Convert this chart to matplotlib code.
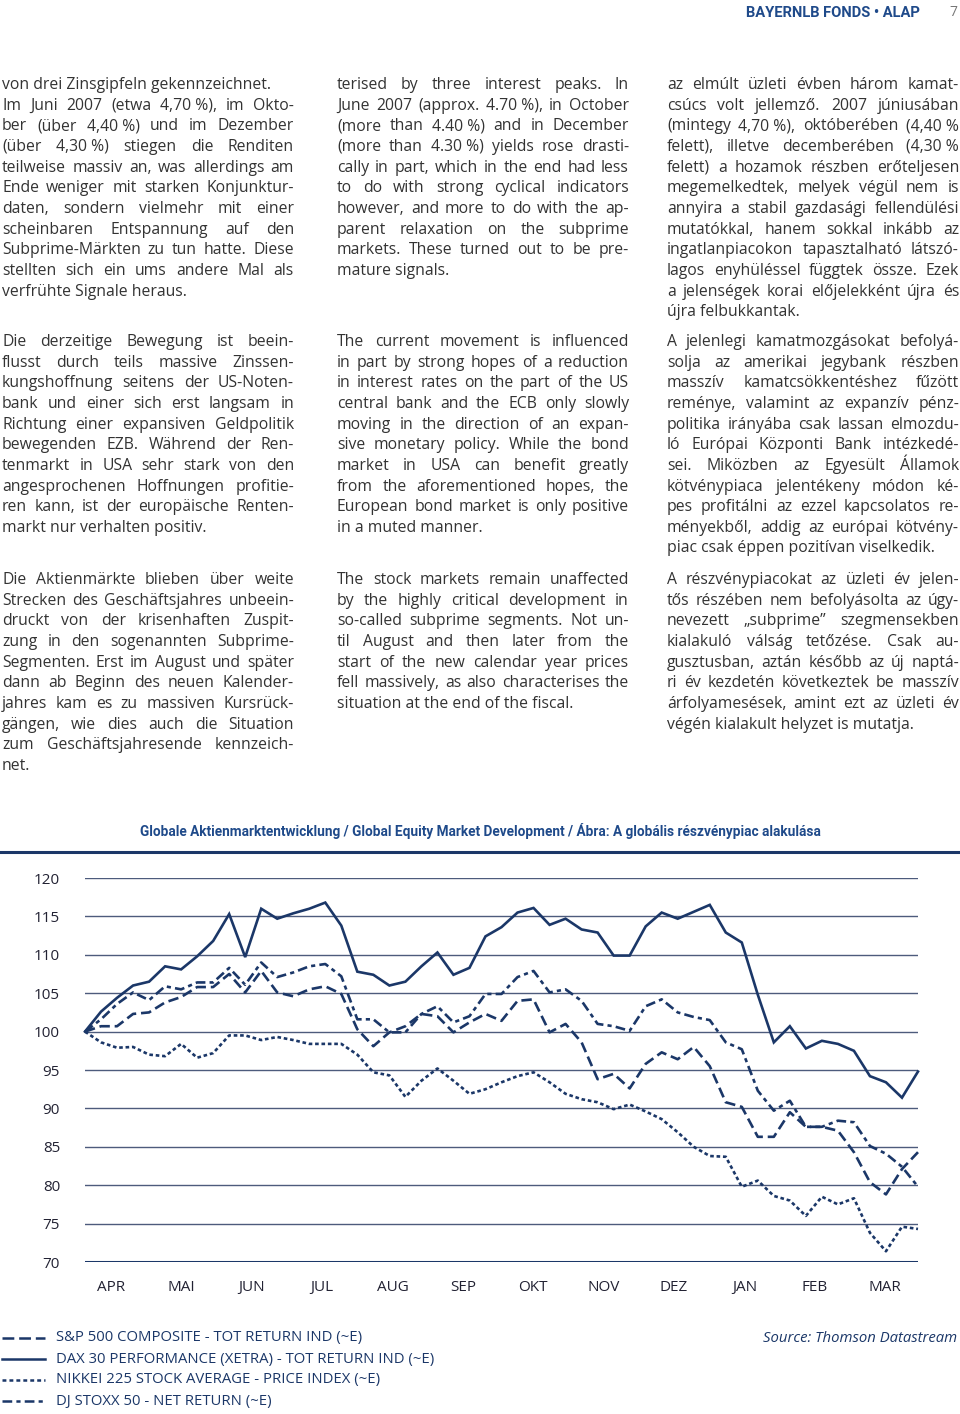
import matplotlib
matplotlib.use("Agg")
import matplotlib.pyplot as plt
from matplotlib.lines import Line2D

W, H = 960, 1414

# weekly index values, Apr 2007 - Mar 2008
dax = [100, 102.6, 104.4, 106.0, 106.5, 108.5, 108.1, 109.8, 111.8, 115.3,
       109.7, 116.0, 114.7, 115.4, 116.0, 116.8, 113.8, 107.8, 107.4, 106.0,
       106.5, 108.5, 110.3, 107.4, 108.3, 112.4, 113.6, 115.5, 116.1, 113.9,
       114.7, 113.3, 112.9, 109.9, 109.9, 113.7, 115.5, 114.7, 115.6, 116.5,
       112.9, 111.6, 104.8, 98.6, 100.7, 97.8, 98.8, 98.4, 97.5, 94.2,
       93.4, 91.4, 94.8]
stoxx = [100, 101.6, 103.6, 105.1, 104.1, 105.9, 105.5, 106.4, 106.4, 108.3,
         106.1, 109.0, 107.1, 107.7, 108.5, 108.8, 107.2, 101.6, 101.6, 99.9,
         99.9, 102.3, 103.3, 101.2, 102.0, 104.9, 104.9, 107.1, 107.9, 105.1,
         105.5, 104.0, 101.0, 100.7, 100.1, 103.3, 104.2, 102.5, 101.9, 101.5,
         98.6, 97.7, 92.3, 89.7, 91.0, 87.6, 87.6, 88.4, 88.2, 85.1,
         84.1, 82.4, 79.8]
sp500 = [100, 100.7, 100.7, 102.3, 102.5, 103.8, 104.5, 105.8, 105.8, 107.5,
         105.1, 107.9, 105.1, 104.6, 105.5, 105.9, 104.9, 100.3, 98.1, 99.9,
         100.7, 102.3, 102.0, 99.9, 101.2, 102.3, 101.4, 104.0, 104.2, 99.9,
         101.0, 98.6, 93.8, 94.5, 92.6, 95.8, 97.3, 96.4, 98.0, 95.5,
         90.8, 90.2, 86.3, 86.3, 89.5, 87.6, 87.6, 87.1, 84.3, 80.4,
         78.8, 82.1, 84.3]
nikkei = [100, 98.6, 97.9, 98.0, 97.0, 96.8, 98.4, 96.6, 97.2, 99.5,
          99.5, 98.9, 99.3, 98.9, 98.4, 98.4, 98.4, 97.0, 94.7, 94.3,
          91.5, 93.6, 95.2, 93.6, 91.9, 92.5, 93.4, 94.2, 94.7, 93.4,
          91.9, 91.2, 90.8, 89.9, 90.5, 89.6, 88.6, 86.9, 85.0, 83.8,
          83.7, 79.8, 80.6, 78.6, 78.0, 76.0, 78.5, 77.5, 78.3, 73.8,
          71.4, 74.6, 74.3]

months = ["APR", "MAI", "JUN", "JUL", "AUG", "SEP", "OKT", "NOV", "DEZ",
          "JAN", "FEB", "MAR"]
yticks = [70, 75, 80, 85, 90, 95, 100, 105, 110, 115, 120]

legend_labels = [
    "S&P 500 COMPOSITE - TOT RETURN IND (~E)",
    "DAX 30 PERFORMANCE (XETRA) - TOT RETURN IND (~E)",
    "NIKKEI 225 STOCK AVERAGE - PRICE INDEX (~E)",
    "DJ STOXX 50 - NET RETURN (~E)",
]

col_de = [
    ["von drei Zinsgipfeln gekennzeichnet.",
     "Im Juni 2007 (etwa 4,70\u00a0%), im Okto-",
     "ber (über 4,40\u00a0%) und im Dezember",
     "(über 4,30\u00a0%) stiegen die Renditen",
     "teilweise massiv an, was allerdings am",
     "Ende weniger mit starken Konjunktur-",
     "daten, sondern vielmehr mit einer",
     "scheinbaren Entspannung auf den",
     "Subprime-Märkten zu tun hatte. Diese",
     "stellten sich ein ums andere Mal als",
     "verfrühte Signale heraus."],
    ["Die derzeitige Bewegung ist beein-",
     "flusst durch teils massive Zinssen-",
     "kungshoffnung seitens der US-Noten-",
     "bank und einer sich erst langsam in",
     "Richtung einer expansiven Geldpolitik",
     "bewegenden EZB. Während der Ren-",
     "tenmarkt in USA sehr stark von den",
     "angesprochenen Hoffnungen profitie-",
     "ren kann, ist der europäische Renten-",
     "markt nur verhalten positiv."],
    ["Die Aktienmärkte blieben über weite",
     "Strecken des Geschäftsjahres unbeein-",
     "druckt von der krisenhaften Zuspit-",
     "zung in den sogenannten Subprime-",
     "Segmenten. Erst im August und später",
     "dann ab Beginn des neuen Kalender-",
     "jahres kam es zu massiven Kursrück-",
     "gängen, wie dies auch die Situation",
     "zum Geschäftsjahresende kennzeich-",
     "net."],
]
col_en = [
    ["terised by three interest peaks. In",
     "June 2007 (approx. 4.70\u00a0%), in October",
     "(more than 4.40\u00a0%) and in December",
     "(more than 4.30\u00a0%) yields rose drasti-",
     "cally in part, which in the end had less",
     "to do with strong cyclical indicators",
     "however, and more to do with the ap-",
     "parent relaxation on the subprime",
     "markets. These turned out to be pre-",
     "mature signals."],
    ["The current movement is influenced",
     "in part by strong hopes of a reduction",
     "in interest rates on the part of the US",
     "central bank and the ECB only slowly",
     "moving in the direction of an expan-",
     "sive monetary policy. While the bond",
     "market in USA can benefit greatly",
     "from the aforementioned hopes, the",
     "European bond market is only positive",
     "in a muted manner."],
    ["The stock markets remain unaffected",
     "by the highly critical development in",
     "so-called subprime segments. Not un-",
     "til August and then later from the",
     "start of the new calendar year prices",
     "fell massively, as also characterises the",
     "situation at the end of the fiscal."],
]
col_hu = [
    ["az elmúlt üzleti évben három kamat-",
     "csúcs volt jellemző. 2007 júniusában",
     "(mintegy 4,70\u00a0%), októberében (4,40\u00a0%",
     "felett), illetve decemberében (4,30\u00a0%",
     "felett) a hozamok részben erőteljesen",
     "megemelkedtek, melyek végül nem is",
     "annyira a stabil gazdasági fellendülési",
     "mutatókkal, hanem sokkal inkább az",
     "ingatlanpiacokon tapasztalható látszó-",
     "lagos enyhüléssel függtek össze. Ezek",
     "a jelenségek korai előjelekként újra és",
     "újra felbukkantak."],
    ["A jelenlegi kamatmozgásokat befolyá-",
     "solja az amerikai jegybank részben",
     "masszív kamatcsökkentéshez fűzött",
     "reménye, valamint az expanzív pénz-",
     "politika irányába csak lassan elmozdu-",
     "ló Európai Központi Bank intézkedé-",
     "sei. Miközben az Egyesült Államok",
     "kötvénypiaca jelentékeny módon ké-",
     "pes profitálni az ezzel kapcsolatos re-",
     "ményekből, addig az európai kötvény-",
     "piac csak éppen pozitívan viselkedik."],
    ["A részvénypiacokat az üzleti év jelen-",
     "tős részében nem befolyásolta az úgy-",
     "nevezett „subprime” szegmensekben",
     "kialakuló válság tetőzése. Csak au-",
     "gusztusban, aztán később az új naptá-",
     "ri év kezdetén következtek be masszív",
     "árfolyamesések, amint ezt az üzleti év",
     "végén kialakult helyzet is mutatja."],
]

NAVY = "#1b3768"
BLUE = "#1f4a8a"
TXT = "#333333"
FONT = ["Open Sans", "DejaVu Sans"]
BOLD = ["Roboto", "DejaVu Sans"]

plt.rcParams["lines.scale_dashes"] = False

fig = plt.figure(figsize=(W / 100, H / 100), dpi=100)
renderer = fig.canvas.get_renderer()


def fx(x):
    return x / W


def fy(y):
    return 1 - y / H


def fit_text(t, target_px):
    # shrink/grow the font so the text spans target_px
    w = t.get_window_extent(renderer).width
    t.set_fontsize(t.get_fontsize() * target_px / w)


def put_line(x0, x1, y, line, justify, size=11.3):
    kw = dict(fontsize=size, color=TXT, family=FONT, va="baseline")
    if not justify:
        fig.text(fx(x0), fy(y), line, ha="left", **kw)
        return
    words = line.split(" ")
    texts = [fig.text(0, 0, w, ha="left", **kw) for w in words]
    widths = [t.get_window_extent(renderer).width for t in texts]
    gap = (x1 - x0 - sum(widths)) / max(len(words) - 1, 1)
    x = x0
    for t, w in zip(texts, widths):
        t.set_position((fx(x), fy(y)))
        x += w + gap


para_tops = [83, 340, 578]
line_h = 20.65
for x0, x1, col in [(2, 294, col_de), (337, 629, col_en), (667, 959, col_hu)]:
    for top, para in zip(para_tops, col):
        for k, line in enumerate(para):
            last = k == len(para) - 1
            if col is col_de and top == 83 and k == 0:
                last = True
            put_line(x0, x1, top + k * line_h + 6, line, not last)

# header
hd = fig.text(fx(920), fy(13), "BAYERNLB FONDS \u2022 ALAP", ha="right",
              va="center", fontsize=10, fontweight="bold", color=BLUE,
              family=BOLD)
fit_text(hd, 175)
fig.text(fx(957), fy(13), "7", ha="right", va="center", fontsize=10,
         color="#777777", family=FONT)

# chart title + rule
tt = fig.text(fx(480), fy(831),
              "Globale Aktienmarktentwicklung / Global Equity Market "
              "Development / Ábra: A globális részvénypiac alakulása",
              ha="center", va="center", fontsize=9.5, fontweight="bold",
              color=BLUE, family=BOLD)
fit_text(tt, 684)
fig.add_artist(Line2D([0, 1], [fy(852), fy(852)], color=NAVY, lw=2.2))

# chart
ax = fig.add_axes([fx(85), fy(1262), fx(918) - fx(85), fy(878) - fy(1262)])
weeks = list(range(len(dax)))
ax.set_xlim(0, len(dax) - 1)
ax.set_ylim(70, 120)
for v in yticks:
    ax.axhline(v, color="#4d5b7c", lw=1.0, zorder=1)
ax.axhline(70, color=NAVY, lw=2.2, zorder=1)

lw = 1.9
ax.plot(weeks, dax, color=NAVY, lw=lw, solid_joinstyle="miter", zorder=3,
        clip_on=False)
ax.plot(weeks, sp500, color=NAVY, lw=lw, dashes=(7.5, 3.5), zorder=3,
        clip_on=False)
ax.plot(weeks, stoxx, color=NAVY, lw=lw, dashes=(7, 3, 3, 3), zorder=3,
        clip_on=False)
ax.plot(weeks, nikkei, color=NAVY, lw=lw, dashes=(2.6, 2), zorder=3,
        clip_on=False)

for s in ax.spines.values():
    s.set_visible(False)
ax.set_yticks(yticks)
ax.set_yticklabels([str(v) for v in yticks], fontsize=11, color="#222233",
                   family=FONT)
ax.tick_params(axis="y", length=0, pad=18)
month_pos = [1.62 + 4.394 * k for k in range(len(months))]
ax.set_xticks(month_pos)
ax.set_xticklabels(months, fontsize=11, color="#222233", family=FONT)
ax.tick_params(axis="x", length=0, pad=13)

# legend
styles = [dict(dashes=(8.5, 3.5)), dict(), dict(dashes=(2.8, 2.2)),
          dict(dashes=(7, 3, 3, 3))]
for k, (lab, st) in enumerate(zip(legend_labels, styles)):
    y = 1338 + k * 21
    fig.add_artist(Line2D([fx(2), fx(45)], [fy(y), fy(y)], color=NAVY, lw=1.8,
                          **st))
    fig.text(fx(56), fy(y), lab, ha="left", va="center", fontsize=10.7,
             color=NAVY, family=FONT)
fig.text(fx(957), fy(1338), "Source: Thomson Datastream", ha="right",
         va="center", fontsize=10.7, style="italic", color=NAVY, family=FONT)

fig.savefig("out.png", dpi=100)
